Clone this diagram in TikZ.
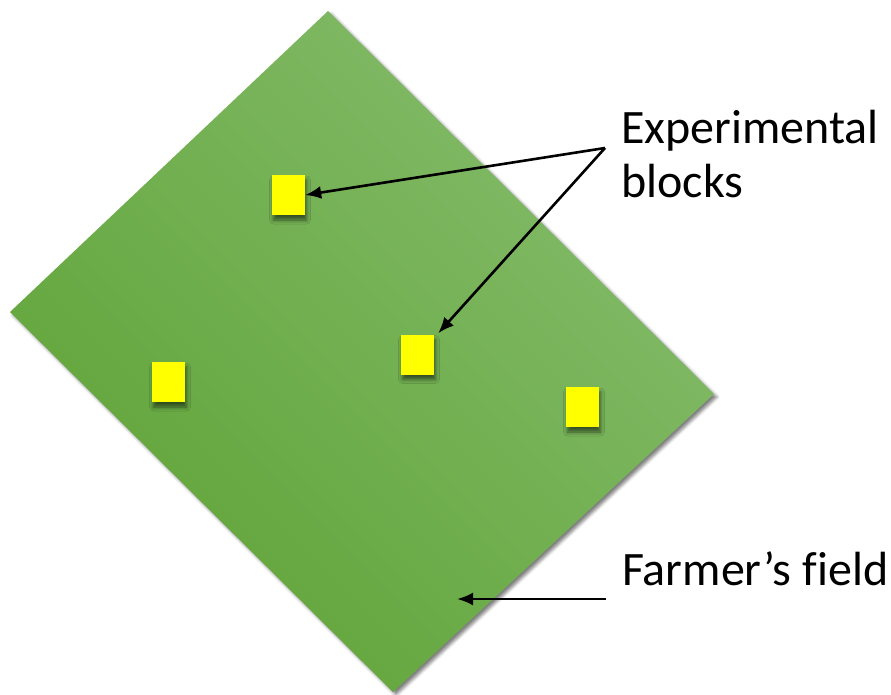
\documentclass[tikz,border=0pt]{standalone}
\usepackage{fontspec}
\setmainfont{Carlito}[Ligatures=NoCommon]
\usetikzlibrary{arrows.meta,shadows.blur}
\definecolor{fielddark}{RGB}{96,164,56}
\definecolor{fieldlight}{RGB}{132,187,106}
\definecolor{blockyellow}{RGB}{255,255,0}
\tikzset{
  field/.style={top color=fieldlight, bottom color=fielddark, shading angle=-45,
    blur shadow={shadow xshift=3pt, shadow yshift=-3pt, shadow blur radius=3pt, shadow opacity=50}},
  block/.style={draw=none, fill=blockyellow, minimum width=33pt, minimum height=40pt, inner sep=0pt,
    blur shadow={shadow xshift=1.5pt, shadow yshift=-5pt, shadow blur radius=4pt, shadow opacity=55}},
  label/.style={font=\fontsize{48}{54}\selectfont, inner sep=0pt, align=left},
  pointer/.style={draw=black, line width=2.6pt, -{Latex[length=16pt,width=13pt]}}
}
\begin{document}
\begin{tikzpicture}[x=1pt,y=-1pt]
  \useasboundingbox (0,0) rectangle (891,694);
  % the farmer's field, a tilted rectangle
  \path[field] (328,11) -- (714,394) -- (393,692) -- (10,312) -- cycle;
  % experimental blocks
  \node[block] (b1) at (288.5,195) {};
  \node[block] (b2) at (417.5,354.5) {};
  \node[block] (b3) at (582.5,407) {};
  \node[block] (b4) at (168.5,382) {};
  % labels (base anchor sits on the last line)
  \node[label, anchor=base west] (eb) at (621,197) {Experimental\\blocks};
  \node[label, anchor=base west] (ff) at (622,585) {Farmer’s field};
  % pointers
  \coordinate (ebsrc) at (605,148);
  \coordinate (ffsrc) at (606,599);
  \coordinate (ffdst) at (457,599);
  \draw[pointer] (ebsrc) -- (b1.east);
  \draw[pointer] (ebsrc) -- ([xshift=4pt,yshift=1pt]b2.north east);
  \draw[pointer] (ffsrc) -- (ffdst);
\end{tikzpicture}
\end{document}
